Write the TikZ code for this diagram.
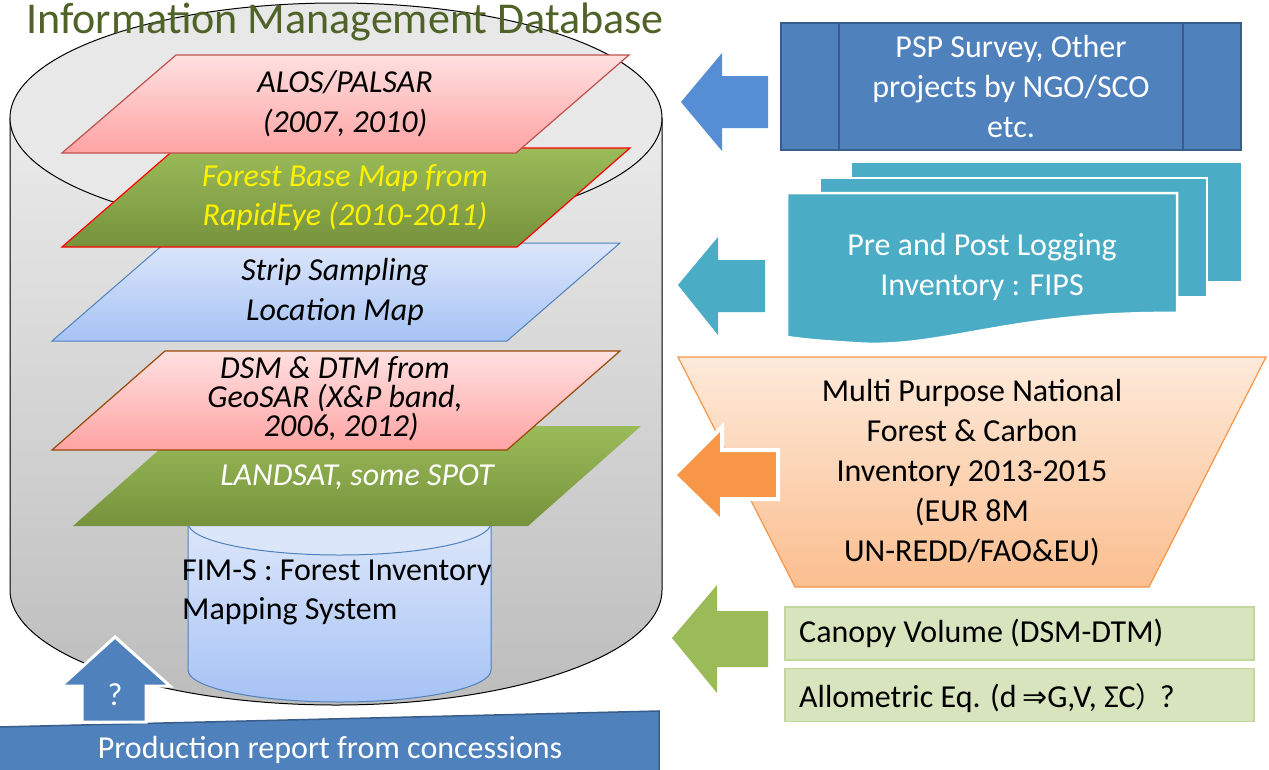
\documentclass[tikz,border=0pt]{standalone}
\usepackage{fontspec}
\setmainfont{Carlito}
\newfontfamily\djv{DejaVu Sans}
\newfontfamily\cjkf{Noto Sans CJK JP}
\definecolor{titlegreen}{HTML}{4F6228}
\definecolor{dbblue}{HTML}{4F81BD}
\definecolor{dbblueD}{HTML}{385D8A}
\definecolor{arrblue}{HTML}{558ED5}
\definecolor{teal}{HTML}{4BACC6}
\definecolor{orng}{HTML}{F79646}
\definecolor{grn}{HTML}{9BBB59}
\definecolor{grnD}{HTML}{76923C}
\definecolor{pinkT}{HTML}{FFE0E0}
\definecolor{pinkB}{HTML}{FFA3A3}
\definecolor{pinkE}{HTML}{C0504D}
\definecolor{blueT}{HTML}{DCE6FA}
\definecolor{blueB}{HTML}{A6C3F5}
\definecolor{brownE}{HTML}{984807}
\definecolor{boxgreen}{HTML}{D7E4BD}
\definecolor{boxgreenE}{HTML}{C3D69B}
\definecolor{orT}{HTML}{FDEADA}
\definecolor{orB}{HTML}{FBBE8F}
\begin{document}
\begin{tikzpicture}[x=1pt,y=-1pt,
  txt/.style={font=\fontsize{32}{40}\selectfont, align=center, inner sep=0pt},
  itxt/.style={font=\fontsize{32}{40}\selectfont\itshape, align=center, inner sep=0pt},
  layerpink/.style={top color=pinkT, bottom color=pinkB},
  layergreen/.style={top color=grn, bottom color=grnD},
  layerblue/.style={top color=blueT, bottom color=blueB},
  blockarrow/.style={line join=miter},
  greenbox/.style={draw=boxgreenE, fill=boxgreen, line width=1.2pt, minimum width=469pt, minimum height=53pt, inner sep=0pt}
]
\fill[white] (0,0) rectangle (1269,769);
\useasboundingbox (0,0) rectangle (1269,769);

% big cylinder
\shade[top color=black!8, bottom color=black!26, draw=black, line width=1pt]
  (10,118) -- (10,590) arc[start angle=180, end angle=0, x radius=326, y radius=115] -- (662,118) -- cycle;
\filldraw[fill=black!9, draw=black, line width=1pt] (336,118) ellipse [x radius=326, y radius=115];
\node[font=\fontsize{44}{48}\selectfont, text=titlegreen, inner sep=0pt] (title) at (345,22) {Information Management Database};

% small cylinder
\shade[top color=blueT, bottom color=blueB, draw=dbblue, line width=1pt]
  (188,523) -- (188,670) arc[start angle=180, end angle=0, x radius=151.5, y radius=32] -- (491,523) -- cycle;
\filldraw[fill=blueT, draw=dbblue, line width=1pt] (339.5,523) ellipse [x radius=151.5, y radius=32];
\node[txt, align=left, anchor=west] (fims) at (182,592.5) {FIM-S : Forest Inventory\\[-1pt]Mapping System};

% layers (bottom to top)
\shade[layergreen] (186,426) -- (641,426) -- (528,526) -- (73,526) -- cycle;
\node[itxt, text=white] (landsat) at (357,477) {LANDSAT, some SPOT};

\shade[layerpink, draw=brownE, line width=1.2pt] (165,351) -- (620,351) -- (507,450) -- (52,450) -- cycle;
\node[itxt, font=\fontsize{32}{29}\selectfont\itshape] (dsm) at (335,399) {DSM \& DTM from\\GeoSAR (X\&P band,\\\ \,2006, 2012)};

\shade[layerblue, draw=dbblue, line width=1pt] (165,243) -- (620,243) -- (507,341) -- (52,341) -- cycle;
\node[itxt] (strip) at (335,292) {Strip Sampling\\Location Map};

\shade[layergreen, draw=red, line width=1.2pt] (176,148) -- (630,148) -- (517,247) -- (62,247) -- cycle;
\node[itxt, text=yellow, font=\fontsize{32}{39}\selectfont\itshape] (fbm) at (345,198) {Forest Base Map from\\RapidEye (2010-2011)};

\shade[layerpink, draw=pinkE, line width=1.2pt] (176,55) -- (629,55) -- (516,153) -- (62,153) -- cycle;
\node[itxt] (alos) at (345,104) {ALOS/PALSAR\\(2007, 2010)};

% production bar
\filldraw[fill=dbblue, draw=dbblueD, line width=1.5pt] (-2,727) -- (659,711) -- (659,780) -- (-2,780) -- cycle;
\node[txt, text=white] (prod) at (330,750) {Production report from concessions};

% up arrow
\filldraw[blockarrow, fill=dbblue, draw=white, line width=3pt]
  (115,637) -- (170,686) -- (146,686) -- (146,722) -- (82,722) -- (82,686) -- (61,686) -- cycle;
\node[font=\fontsize{32}{34}\selectfont, text=white, inner sep=0pt] (q) at (115,695) {?};

% PSP box
\filldraw[fill=dbblue, draw=dbblueD, line width=2pt] (781,23) rectangle (1241,150);
\draw[dbblueD, line width=2pt] (839,23) -- (839,150) (1183,23) -- (1183,150);
\node[txt, text=white] (psp) at (1011,87) {PSP Survey, Other\\projects by NGO/SCO\\etc.};
\filldraw[blockarrow, fill=arrblue, draw=none]
  (681,102) -- (722,53) -- (722,76) -- (768,76) -- (768,128) -- (722,128) -- (722,151) -- cycle;

% FIPS multidocument
\filldraw[fill=teal, draw=white, line width=2.5pt] (851,162) rectangle (1242,282);
\filldraw[fill=teal, draw=white, line width=2.5pt] (820,178) rectangle (1207,297);
\filldraw[fill=teal, draw=white, line width=2.5pt] (787,193) -- (1177,193) -- (1177,313)
  .. controls (1010,311) and (940,350) .. (853,343) .. controls (820,341) and (800,339) .. (787,337) -- cycle;
\node[txt, text=white] (fips) at (982,267) {Pre and Post Logging\\Inventory : FIPS};
\filldraw[blockarrow, fill=teal, draw=none]
  (678,285) -- (718,237) -- (718,260) -- (765,260) -- (765,312) -- (718,312) -- (718,335) -- cycle;

% trapezoid
\shade[top color=orT, bottom color=orB, draw=orng, line width=1.2pt] (678,357) -- (1266,357) -- (1149,587) -- (795,587) -- cycle;
\node[txt] (nfi) at (972,473) {Multi Purpose National\\Forest \& Carbon\\Inventory 2013-2015\\(EUR 8M\\UN-REDD/FAO\&EU)};
\filldraw[blockarrow, fill=orng, draw=white, line width=4pt]
  (674,475) -- (722,427) -- (722,450) -- (778,450) -- (778,499) -- (722,499) -- (722,522) -- cycle;

% green boxes
\node[greenbox] (canopy) at (1019.5,633.5) {};
\node[txt, anchor=west] (canopyt) at (799,633.5) {Canopy Volume (DSM-DTM)};
\node[greenbox] (allo) at (1019.5,695) {};
\node[txt, anchor=west] (allot) at (799,698) {Allometric Eq. (d\,{\djv\fontsize{30}{30}\selectfont ⇒}G,V, ΣC{\cjkf\fontsize{28}{30}\selectfont ）}\kern-4pt?};
\filldraw[blockarrow, fill=grn, draw=none]
  (672,638) -- (717,585) -- (717,611) -- (768,611) -- (768,667) -- (717,667) -- (717,693) -- cycle;
\end{tikzpicture}
\end{document}
